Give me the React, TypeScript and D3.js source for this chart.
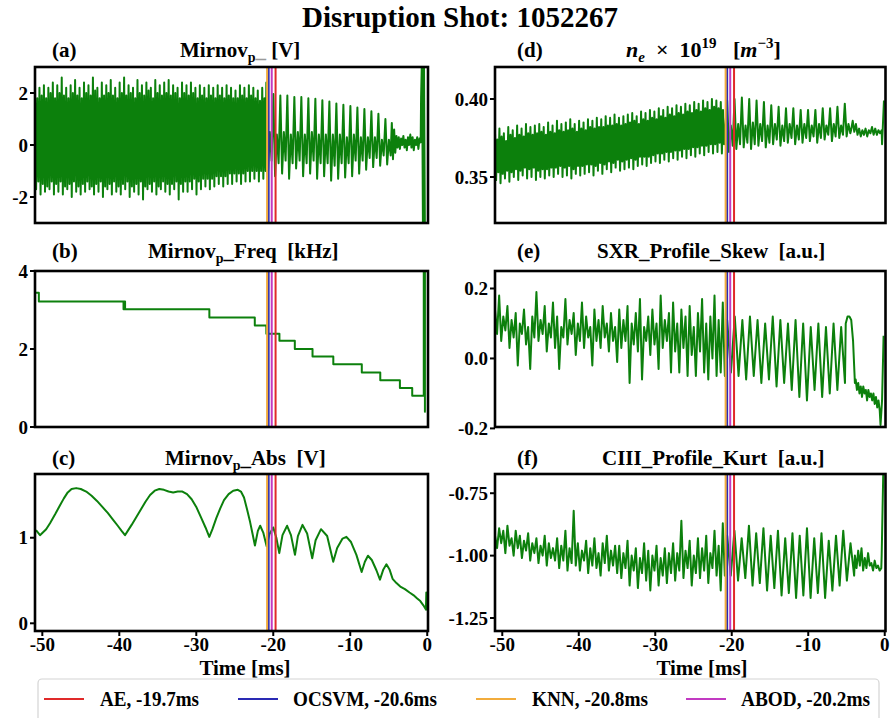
import React from 'react';
import * as d3 from 'd3';

const SERIF = 'Liberation Serif, Tinos, DejaVu Serif, serif';
const SIGNAL_COLOR = '#0c800c';

// Anomaly detectors and their alarm times before the disruption (ms)
const detectorNames = ['AE', 'OCSVM', 'KNN', 'ABOD'];
const detectorTimes = [-19.7, -20.6, -20.8, -20.2];
const detectorColors = ['#e02a2a', '#2a2ab4', '#f2ac3c', '#c23ac2'];

const timeDomain = [-50.95, 0.1];
const timeTicks = [-50, -40, -30, -20, -10, 0];

// (a) Mirnov probe voltage [V]: successive peak / trough readings inside each time span
const mirnovSpans = [[-50.95, -21.0], [-20.9, -4.75], [-4.6, -0.85], [-0.8, -0.3]];
const mirnovEarly = [
  2.1, -1.7, 1.8, -1.4, 2.2, -1.9, 1.9, -1.5, 2.3, -1.8, 1.8, -1.6, 2.2, -1.7, 2.0, -1.4,
  2.4, -1.9, 1.8, -1.5, 2.3, -1.8, 2.0, -1.4, 2.6, -1.9, 1.9, -1.6, 2.2, -1.7, 1.8, -1.5,
  2.3, -2.0, 2.0, -1.4, 2.5, -1.8, 1.9, -1.6, 2.2, -1.9, 1.8, -1.5, 2.4, -1.8, 2.0, -1.4,
  2.3, -1.7, 1.9, -1.6, 2.6, -1.9, 2.1, -1.5, 2.2, -1.8, 1.8, -1.4, 2.4, -2.0, 1.9, -1.6,
  2.3, -1.7, 2.0, -1.5, 2.5, -1.9, 1.9, -1.4, 2.2, -1.8, 1.8, -1.6, 2.4, -1.9, 2.0, -1.5,
  2.6, -1.7, 1.9, -1.4, 2.3, -2.0, 2.0, -1.6, 2.2, -1.8, 1.8, -1.5, 2.5, -1.9, 2.0, -1.4,
  2.3, -2.1, 1.9, -1.6, 2.4, -1.7, 2.1, -1.5, 2.2, -1.8, 1.8, -1.4, 2.5, -1.9, 2.0, -1.6,
  2.3, -1.7, 1.9, -1.4, 2.4, -1.8, 2.0, -1.5, 2.5, -1.9, 1.9, -1.5, 2.3, -1.7, 2.0, -1.4,
  2.2, -2.1, 1.8, -1.5, 2.4, -1.8, 2.0, -1.4, 2.3, -1.8, 1.9, -1.4, 2.4, -1.7, 2.0, -1.3,
  2.2, -1.9, 1.8, -1.4, 2.3, -1.7, 1.9, -1.3, 2.2, -1.6, 1.8, -1.3, 2.3, -1.7, 1.9, -1.3,
  2.2, -1.6, 1.8, -1.2, 2.3, -1.5, 1.9, -1.2, 2.2, -1.6, 1.8, -1.2, 2.3, -1.5, 1.9, -1.1,
  2.2, -1.5, 1.8, -1.1, 2.1, -1.4, 1.8, -1.1, 2.3, -1.5, 1.9, -1.1, 2.2, -1.4, 1.8, -1.0,
  2.3, -1.4, 1.9, -1.0, 2.2, -1.3, 1.8, -1.0, 2.1, -1.4, 1.7, -1.0, 2.2, -1.3, 1.8, -1.0,
];
const mirnovLate = [
  2.4, -1.0, 0.5, -0.6, 1.96, -1.2, 0.4, -0.7, 1.9, -1.1, 0.5, -0.6, 1.9, -1.3, 0.4, -0.7,
  1.85, -0.9, 0.5, -0.6, 1.85, -1.2, 0.4, -0.7, 1.8, -1.1, 0.5, -0.6, 1.78, -1.3, 0.4, -0.7,
  1.72, -1.2, 0.4, -0.7, 1.67, -1.37, 0.4, -0.8, 1.6, -1.3, 0.4, -0.7, 1.55, -1.25, 0.3, -0.7,
  1.5, -1.2, 0.4, -0.6, 1.44, -1.1, 0.3, -0.6, 1.38, -0.95, 0.3, -0.5, 1.3, -0.85, 0.3, -0.5,
  1.2, -0.8, 0.2, -0.4, 1.0, -0.75, 0.2, -0.4,
];
const mirnovTail = [
  0.85, -0.55, 0.6, -0.3, 0.35, -0.1, 0.3, -0.15, 0.25, 0.0, 0.35, -0.1, 0.2,
  -0.2, 0.3, 0.0, 0.4, -0.1, 0.3, -0.2, 0.2, 0.0, 0.3, -0.15, 0.25, 0.1,
];
const mirnovEnd = [1.8, 3.5, -3.5, 3.5, -3.5];

// (b) dominant Mirnov frequency [kHz], held constant until the next change
const freqTimes = [-50.95, -50.45, -39.45, -39.35, -39.25, -39.15, -28.3, -22.4, -20.9, -19.2, -17.2, -14.9, -12.2, -8.5, -6.1, -3.55, -1.95, -0.45, -0.3, -0.2];
const freqValues = [3.44, 3.22, 3.02, 3.22, 3.02, 3.02, 2.81, 2.6, 2.39, 2.21, 2.0, 1.81, 1.61, 1.4, 1.2, 1.0, 0.8, 4.3, 0.39, 0.39];

// (c) Mirnov amplitude envelope [V]
const absTimes = [
  -50.82, -50.3, -49.5, -49.0, -48.3, -47.7, -47.2, -46.7, -46.2, -45.6, -45.0, -44.3, -43.6, -42.9, -42.2, -41.5,
  -40.8, -40.2, -39.7, -39.26, -38.9, -38.4, -37.8, -37.2, -36.6, -36.0, -35.4, -34.8, -34.2, -33.6, -33.0, -32.4,
  -31.8, -31.2, -30.6, -30.0, -29.4, -28.8, -28.31, -27.9, -27.4, -26.9, -26.4, -25.8, -25.2, -24.6, -24.2, -23.8,
  -23.4, -23.0, -22.7, -22.38, -22.0, -21.7, -21.3, -20.86, -20.5, -20.0, -19.6, -19.22, -18.8, -18.2, -17.7, -17.18,
  -16.8, -16.2, -15.6, -14.94, -14.5, -13.8, -13.0, -12.21, -11.7, -11.0, -10.5, -9.9, -9.2, -8.52, -8.1, -7.7,
  -7.2, -6.6, -6.14, -5.7, -5.3, -4.9, -4.5, -4.0, -3.5, -2.9, -2.3, -1.8, -1.3, -0.9, -0.5, -0.17, -0.12, -0.08,
];
const absValues = [
  1.09, 1.03, 1.1, 1.17, 1.28, 1.38, 1.46, 1.53, 1.57, 1.58, 1.57, 1.54, 1.49, 1.43, 1.36, 1.29,
  1.21, 1.14, 1.08, 1.03, 1.08, 1.15, 1.24, 1.33, 1.42, 1.5, 1.55, 1.57, 1.56, 1.54, 1.53, 1.54,
  1.54, 1.51, 1.45, 1.36, 1.24, 1.12, 1.01, 1.1, 1.23, 1.34, 1.44, 1.51, 1.55, 1.56, 1.54, 1.47,
  1.33, 1.18, 1.05, 0.91, 1.08, 1.14, 1.06, 0.9, 1.04, 1.12, 1.0, 0.82, 1.03, 1.14, 1.03, 0.8,
  1.02, 1.15, 1.05, 0.76, 0.97, 1.1, 1.02, 0.72, 0.88, 0.99, 1.01, 0.95, 0.8, 0.6, 0.72, 0.79,
  0.74, 0.62, 0.51, 0.63, 0.69, 0.63, 0.52, 0.47, 0.43, 0.4, 0.36, 0.33, 0.29, 0.26, 0.21, 0.16, 0.36, 0.15,
];

// (d) line-averaged electron density [1e19 m^-3]
const densSpans = [[-50.95, -21.0], [-20.6, -4.5], [-4.4, -0.4], [-0.35, -0.1]];
const densEarly = [
  0.379, 0.348, 0.374, 0.353, 0.381, 0.346, 0.376, 0.352, 0.378, 0.349, 0.373, 0.354, 0.382, 0.347, 0.377, 0.353,
  0.38, 0.35, 0.375, 0.355, 0.383, 0.348, 0.377, 0.354, 0.381, 0.351, 0.376, 0.356, 0.384, 0.349, 0.378, 0.355,
  0.382, 0.35, 0.377, 0.356, 0.383, 0.348, 0.378, 0.354, 0.384, 0.35, 0.379, 0.355, 0.382, 0.349, 0.377, 0.355,
  0.385, 0.351, 0.379, 0.356, 0.383, 0.35, 0.378, 0.356, 0.386, 0.352, 0.38, 0.357, 0.384, 0.35, 0.379, 0.356,
  0.385, 0.351, 0.38, 0.357, 0.387, 0.349, 0.381, 0.355, 0.384, 0.352, 0.379, 0.357, 0.386, 0.351, 0.381, 0.357,
  0.385, 0.352, 0.38, 0.358, 0.387, 0.353, 0.382, 0.358, 0.386, 0.351, 0.381, 0.357, 0.388, 0.354, 0.382, 0.359,
  0.387, 0.352, 0.382, 0.358, 0.389, 0.355, 0.383, 0.36, 0.388, 0.353, 0.383, 0.359, 0.39, 0.356, 0.384, 0.361,
  0.388, 0.354, 0.383, 0.36, 0.389, 0.355, 0.384, 0.361, 0.39, 0.356, 0.385, 0.362, 0.391, 0.355, 0.386, 0.361,
  0.389, 0.357, 0.384, 0.363, 0.392, 0.358, 0.387, 0.363, 0.391, 0.357, 0.386, 0.363, 0.393, 0.359, 0.388, 0.364,
  0.392, 0.36, 0.387, 0.365, 0.394, 0.359, 0.389, 0.365, 0.393, 0.361, 0.388, 0.366, 0.395, 0.36, 0.39, 0.366,
  0.394, 0.362, 0.389, 0.367, 0.396, 0.361, 0.391, 0.367, 0.395, 0.363, 0.39, 0.368, 0.397, 0.362, 0.392, 0.368,
  0.396, 0.364, 0.391, 0.369, 0.398, 0.363, 0.393, 0.369, 0.397, 0.365, 0.392, 0.37, 0.399, 0.364, 0.394, 0.37,
  0.398, 0.366, 0.393, 0.371, 0.4, 0.365, 0.395, 0.371, 0.399, 0.366, 0.394, 0.372, 0.398, 0.365, 0.393, 0.371,
];
const densLate = [
  0.399, 0.366, 0.383, 0.37, 0.4, 0.368, 0.384, 0.371, 0.401, 0.369, 0.383, 0.372, 0.4, 0.368, 0.385, 0.371,
  0.399, 0.37, 0.384, 0.373, 0.398, 0.369, 0.383, 0.372, 0.396, 0.371, 0.384, 0.374, 0.395, 0.37, 0.383, 0.373,
  0.394, 0.372, 0.384, 0.375, 0.394, 0.371, 0.383, 0.374, 0.393, 0.372, 0.384, 0.375, 0.393, 0.373, 0.383, 0.376,
  0.393, 0.372, 0.384, 0.375, 0.394, 0.374, 0.383, 0.377, 0.394, 0.373, 0.384, 0.376, 0.395, 0.375, 0.383, 0.377,
  0.397, 0.376, 0.384, 0.378,
];
const densTail = [
  0.38, 0.386, 0.379, 0.384, 0.377, 0.381, 0.376, 0.38, 0.377, 0.381,
  0.376, 0.38, 0.378, 0.382, 0.377, 0.381, 0.377, 0.38, 0.378, 0.38,
];
const densEnd = [0.371, 0.399];

// (e) soft X-ray profile skewness [a.u.]
const skewSpans = [[-50.95, -20.9], [-20.6, -5.2], [-5.1, -3.9], [-3.8, -0.65], [-0.55, -0.15]];
const skewEarly = [
  0.14, 0.07, 0.18, 0.05, 0.12, 0.08, 0.15, 0.03, 0.11, 0.06, 0.13, -0.02, 0.1, 0.07, 0.14, 0.04, 0.09, -0.03, 0.12, 0.06,
  0.19, 0.05, 0.11, 0.07, 0.15, 0.02, 0.1, 0.06, 0.16, 0.03, 0.12, -0.03, 0.09, 0.06, 0.17, 0.04, 0.11, 0.07, 0.13, 0.01,
  0.1, 0.05, 0.16, 0.03, 0.12, 0.06, 0.09, -0.02, 0.14, 0.05, 0.11, 0.03, 0.15, 0.06, 0.1, 0.02, 0.13, 0.05, 0.09, -0.01,
  0.14, 0.03, 0.11, 0.05, 0.15, -0.07, 0.1, 0.04, 0.13, 0.02, 0.17, -0.06, 0.09, 0.05, 0.12, 0.01, 0.14, 0.04, 0.1, -0.03,
  0.18, 0.03, 0.11, 0.05, 0.13, -0.04, 0.16, 0.02, 0.1, -0.04, 0.14, 0.03, 0.12, -0.05, 0.15, 0.01, 0.09, -0.05, 0.13, 0.02,
  0.17, -0.04, 0.1, -0.06, 0.12, 0.0, 0.18, -0.05, 0.11, -0.04, 0.16, -0.05,
];
const skewLate = [
  0.11, -0.04, 0.12, -0.05, 0.11, -0.06, 0.12, -0.05, 0.11, -0.07, 0.1, -0.06, 0.12, -0.08, 0.11, -0.07,
  0.1, -0.09, 0.11, -0.11, 0.1, -0.12, 0.09, -0.09, 0.1, -0.11, 0.09, -0.1, 0.1, -0.09, 0.09, -0.07,
];
const skewHump = [0.1, 0.12, 0.12, 0.11, 0.05, -0.07];
const skewTail = [
  -0.06, -0.09, -0.07, -0.1, -0.08, -0.11, -0.08, -0.1, -0.09, -0.12,
  -0.09, -0.11, -0.1, -0.12, -0.1, -0.13, -0.11, -0.14, -0.12, -0.15,
];
const skewEnd = [-0.19, -0.12, 0.065];

// (f) CIII emission profile kurtosis [a.u.]
const kurtSpans = [[-50.95, -20.9], [-20.6, -4.0], [-3.9, -0.45], [-0.4, -0.15]];
const kurtEarly = [
  -0.92, -0.97, -0.89, -0.95, -0.9, -0.99, -0.88, -0.96, -0.93, -1.0, -0.9, -0.97, -0.92, -1.01, -0.94, -0.98, -0.91, -1.02, -0.95, -0.99,
  -0.93, -1.03, -0.96, -1.0, -0.92, -1.04, -0.95, -1.01, -0.97, -1.02, -0.93, -1.05, -0.96, -1.02, -0.9, -1.06, -0.97, -1.03, -0.82, -1.04,
  -0.95, -1.06, -0.98, -1.02, -0.94, -1.07, -0.97, -1.04, -0.93, -1.05, -0.99, -1.08, -0.95, -1.03, -0.92, -1.06, -0.98, -1.04, -0.96, -1.07,
  -0.96, -1.09, -0.99, -1.05, -0.94, -1.12, -1.0, -1.06, -0.97, -1.13, -1.01, -1.07, -0.95, -1.1, -0.98, -1.14, -1.0, -1.06, -0.96, -1.12,
  -1.01, -1.08, -0.97, -1.11, -0.99, -1.07, -0.95, -1.1, -0.99, -1.06, -0.86, -1.09, -0.98, -1.05, -0.94, -1.12, -1.0, -1.07, -0.93, -1.09,
  -0.97, -1.06, -0.92, -1.11, -0.99, -1.05, -0.9, -1.08, -0.96, -1.14, -0.87, -1.08,
];
const kurtLate = [
  -0.92, -1.08, -0.9, -1.1, -0.93, -1.09, -0.88, -1.12, -0.91, -1.11, -0.89, -1.14, -0.92, -1.13, -0.9, -1.16, -0.93, -1.15,
  -0.91, -1.17, -0.92, -1.16, -0.89, -1.17, -0.93, -1.15, -0.91, -1.17, -0.94, -1.14, -0.92, -1.12, -0.9, -1.1, -0.95, -1.08,
];
const kurtTail = [-1.0, -1.05, -0.98, -1.04, -0.97, -1.06, -1.01, -1.05, -0.99, -1.04, -1.03, -1.06, -1.02, -1.05, -1.04, -1.06, -1.05];
const kurtEnd = [-1.0, -0.6];

const COLS = [[35, 428], [495, 885.5]];
const ROWS = [[67, 223], [271, 427], [474, 631]];
const TITLE_Y = [57, 258, 465];

type Pt = [number, number];

// Readings listed per span are placed at even steps across that span
function fromSpans(spans: number[][], values: number[][]): Pt[] {
  const pts: Pt[] = [];
  spans.forEach(([t0, t1], k) => {
    const vals = values[k];
    const n = vals.length;
    vals.forEach((v, i) => pts.push([n === 1 ? t0 : t0 + ((t1 - t0) * i) / (n - 1), v]));
  });
  return pts;
}

const zip = (ts: number[], vs: number[]): Pt[] => ts.map((t, i) => [t, vs[i]]);

const SUB = { fontSize: 14 };

const panels = [
  {
    id: 'a', letter: '(a)', col: 0, row: 0, yDomain: [-3, 3], yTicks: [-2, 0, 2], digits: 0,
    points: fromSpans(mirnovSpans, [mirnovEarly, mirnovLate, mirnovTail, mirnovEnd]),
    titleX: 180,
    title: (<>Mirnov<tspan {...SUB} dy={5}>p</tspan><tspan dy={-5} fill="#9a9a9a">_</tspan> [V]</>),
  },
  {
    id: 'b', letter: '(b)', col: 0, row: 1, yDomain: [0, 4], yTicks: [0, 2, 4], digits: 0, step: true,
    points: zip(freqTimes, freqValues),
    titleX: 148,
    title: (<>Mirnov<tspan {...SUB} dy={5}>p</tspan><tspan dy={-5}>_Freq{'\u00a0\u00a0'}[kHz]</tspan></>),
  },
  {
    id: 'c', letter: '(c)', col: 0, row: 2, yDomain: [-0.09, 1.745], yTicks: [0, 1], digits: 0,
    points: zip(absTimes, absValues),
    titleX: 165,
    title: (<>Mirnov<tspan {...SUB} dy={5}>p</tspan><tspan dy={-5}>_Abs{'\u00a0\u00a0'}[V]</tspan></>),
  },
  {
    id: 'd', letter: '(d)', col: 1, row: 0, yDomain: [0.3205, 0.4205], yTicks: [0.35, 0.4], digits: 2,
    points: fromSpans(densSpans, [densEarly, densLate, densTail, densEnd]),
    titleX: 626,
    title: (
      <tspan fontSize={22}>
        <tspan fontStyle="italic">n</tspan>
        <tspan fontStyle="italic" fontSize={15} dy={5}>e</tspan>
        <tspan dy={-5}>{'\u2002×\u200210'}</tspan>
        <tspan fontSize={15} dy={-9}>19</tspan>
        <tspan dy={9}>{'\u00a0\u00a0\u00a0['}</tspan>
        <tspan fontStyle="italic">m</tspan>
        <tspan fontSize={15} dy={-9}>−3</tspan>
        <tspan dy={9}>]</tspan>
      </tspan>
    ),
  },
  {
    id: 'e', letter: '(e)', col: 1, row: 1, yDomain: [-0.196, 0.25], yTicks: [-0.2, 0, 0.2], digits: 1,
    points: fromSpans(skewSpans, [skewEarly, skewLate, skewHump, skewTail, skewEnd]),
    titleX: 597,
    title: <>SXR_Profile_Skew{'\u00a0\u00a0'}[a.u.]</>,
  },
  {
    id: 'f', letter: '(f)', col: 1, row: 2, yDomain: [-1.302, -0.673], yTicks: [-1.25, -1.0, -0.75], digits: 2,
    points: fromSpans(kurtSpans, [kurtEarly, kurtLate, kurtTail, kurtEnd]),
    titleX: 602,
    title: <>CIII_Profile_Kurt{'\u00a0\u00a0'}[a.u.]</>,
  },
];

function Panel({ p }: { p: any }) {
  const [x0, x1] = COLS[p.col];
  const [y0, y1] = ROWS[p.row];
  const x = d3.scaleLinear().domain(timeDomain).range([x0, x1]);
  const y = d3.scaleLinear().domain(p.yDomain).range([y1, y0]);
  const line = d3
    .line<Pt>()
    .x((d) => x(d[0]))
    .y((d) => y(d[1]))
    .curve(p.step ? d3.curveStepAfter : d3.curveLinear);
  const clipId = `clip-${p.id}`;
  const bottomRow = p.row === 2;
  const labelX = p.col === 0 ? 245 : 702;
  return (
    <g>
      <defs>
        <clipPath id={clipId}>
          <rect x={x0} y={y0} width={x1 - x0} height={y1 - y0} />
        </clipPath>
      </defs>
      <g clipPath={`url(#${clipId})`}>
        <path d={line(p.points) || ''} fill="none" stroke={SIGNAL_COLOR} strokeWidth={2} strokeLinejoin="round" />
        {detectorTimes.map((t, i) => (
          <line key={i} x1={x(t)} x2={x(t)} y1={y0} y2={y1} stroke={detectorColors[i]} strokeWidth={2} />
        ))}
      </g>
      <rect x={x0} y={y0} width={x1 - x0} height={y1 - y0} fill="none" stroke="#000" strokeWidth={2.6} />
      {p.yTicks.map((v: number) => (
        <g key={v}>
          <line x1={x0 - 5} x2={x0} y1={y(v)} y2={y(v)} stroke="#000" strokeWidth={2} />
          <text x={x0 - 7} y={y(v)} dy="0.35em" textAnchor="end" fontSize={19} fontWeight="bold" fontFamily={SERIF}>
            {v.toFixed(p.digits)}
          </text>
        </g>
      ))}
      {bottomRow &&
        timeTicks.map((t) => (
          <g key={t}>
            <line x1={x(t)} x2={x(t)} y1={y1} y2={y1 + 5} stroke="#000" strokeWidth={2} />
            <text x={x(t)} y={651} textAnchor="middle" fontSize={19} fontWeight="bold" fontFamily={SERIF}>
              {String(t)}
            </text>
          </g>
        ))}
      {bottomRow && (
        <text x={labelX} y={675} textAnchor="middle" fontSize={21} fontWeight="bold" fontFamily={SERIF}>
          Time [ms]
        </text>
      )}
      <text x={p.col === 0 ? 52 : 517} y={TITLE_Y[p.row]} fontSize={21} fontWeight="bold" fontFamily={SERIF}>
        {p.letter}
      </text>
      <text x={p.titleX} y={TITLE_Y[p.row]} fontSize={21} fontWeight="bold" fontFamily={SERIF}>
        {p.title}
      </text>
    </g>
  );
}

const legendHandleX = [44, 238, 476, 686];
const legendTextX = [100, 293, 532, 741];
const legendTextW = [99, 144, 116, 129];

export default function App() {
  return (
    <>
      <style>{'body{margin:0;}'}</style>
      <svg width={893} height={718} viewBox="0 0 893 718" style={{ display: 'block', background: '#fff' }}>
        <text x={460} y={27} textAnchor="middle" fontSize={29} fontWeight="bold" fontFamily={SERIF}>
          Disruption Shot: 1052267
        </text>
        {panels.map((p) => (
          <Panel key={p.id} p={p} />
        ))}
        <rect x={38} y={679} width={841} height={60} rx={4} fill="#fff" stroke="#d4d4d4" strokeWidth={1.2} />
        {detectorNames.map((name, i) => (
          <g key={name}>
            <line x1={legendHandleX[i]} x2={legendHandleX[i] + 40} y1={699} y2={699} stroke={detectorColors[i]} strokeWidth={2} />
            <text
              x={legendTextX[i]}
              y={706}
              fontSize={20}
              fontWeight="bold"
              fontFamily={SERIF}
              textLength={legendTextW[i]}
              lengthAdjust="spacingAndGlyphs"
            >
              {`${name}, ${detectorTimes[i]}ms`}
            </text>
          </g>
        ))}
      </svg>
    </>
  );
}
